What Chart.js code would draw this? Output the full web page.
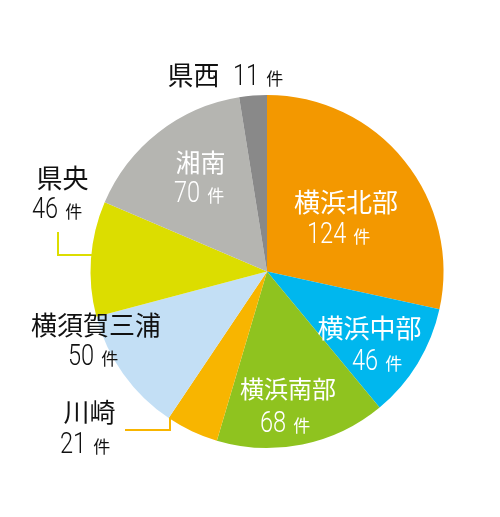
<!DOCTYPE html>
<html lang="ja">
<head>
<meta charset="UTF-8">
<title>地域別件数</title>
<script src="https://cdn.jsdelivr.net/npm/chart.js@4.4.1/dist/chart.umd.min.js"></script>
<style>
  html, body { margin: 0; padding: 0; background: #fff; }
  #wrap { width: 500px; height: 517px; }
</style>
</head>
<body>
<div id="wrap"><canvas id="pie"></canvas></div>
<script>
// data
const areas  = ['横浜北部', '横浜中部', '横浜南部', '川崎', '横須賀三浦', '県央', '湘南', '県西'];
const counts = [124, 46, 68, 21, 50, 46, 70, 11];
const colors = ['#f39800', '#00b7ee', '#8fc31f', '#f8b500', '#c3dff5', '#dcdd00', '#b5b5b1', '#898989'];

// label placement, px offsets from pie centre (name: centre/baseline, num: left/baseline)
const labelLayout = [
  { name: [79, -59.5],     num: [40, -28.5],    size: 26, color: '#fff' },
  { name: [102.5, 66.5],   num: [85, 98.5],     size: 26, color: '#fff' },
  { name: [21, 126.5],     num: [-7, 160.5],    size: 24, color: '#fff' },
  { name: [-177.5, 150.5], num: [-207, 181.5],  size: 26, color: '#111' ,
    leader: [[-142, 158.5], [-97, 158.5], [-97, 146.5]] },
  { name: [-171, 63.5],    num: [-199, 93.5],   size: 26, color: '#111' },
  { name: [-204.5, -83.5], num: [-235, -53.5],  size: 26, color: '#111',
    leader: [[-209, -39.5], [-209, -16.5], [-175, -16.5]] },
  { name: [-66.5, -99.5],  num: [-93, -69.5],   size: 25, color: '#fff' },
  { name: [-73.5, -186.5], num: [-34, -186.5],  size: 26, color: '#111' }
];

const JP = '"Noto Sans CJK JP", sans-serif';
const NUM = 'Roboto, sans-serif';
const NUM_SQUEEZE = 0.8;

const labelPlugin = {
  id: 'areaLabels',
  afterDatasetsDraw(chart) {
    const ctx = chart.ctx;
    const arcs = chart.getDatasetMeta(0).data;
    if (!arcs.length) return;
    const cx = arcs[0].x, cy = arcs[0].y;
    const k = arcs[0].outerRadius / 176.5;
    ctx.save();
    arcs.forEach((arc, i) => {
      const L = labelLayout[i];
      if (L.leader) {
        ctx.strokeStyle = colors[i];
        ctx.lineWidth = 2;
        ctx.beginPath();
        L.leader.forEach((p, j) => {
          const px = cx + p[0] * k, py = cy + p[1] * k;
          if (j === 0) ctx.moveTo(px, py); else ctx.lineTo(px, py);
        });
        ctx.stroke();
      }
      ctx.fillStyle = L.color;
      ctx.textBaseline = 'alphabetic';
      ctx.textAlign = 'center';
      ctx.font = '400 ' + L.size + 'px ' + JP;
      ctx.fillText(areas[i], cx + L.name[0] * k, cy + L.name[1] * k);

      ctx.textAlign = 'left';
      const nx = cx + L.num[0] * k, ny = cy + L.num[1] * k;
      ctx.font = '300 29.5px ' + NUM;
      const s = String(counts[i]);
      ctx.save();
      ctx.translate(nx, ny);
      ctx.scale(NUM_SQUEEZE, 1);
      ctx.fillText(s, 0, 0);
      ctx.restore();
      const w = ctx.measureText(s).width * NUM_SQUEEZE;
      ctx.font = '400 17px ' + JP;
      ctx.fillText('件', nx + w + 7, ny);
    });
    ctx.restore();
  }
};

new Chart(document.getElementById('pie'), {
  type: 'pie',
  data: {
    labels: areas,
    datasets: [{
      data: counts,
      backgroundColor: colors,
      borderWidth: 0
    }]
  },
  options: {
    responsive: true,
    maintainAspectRatio: false,
    animation: false,
    layout: { padding: { top: 95, bottom: 69, left: 90.5, right: 56.5 } },
    plugins: {
      legend: { display: false },
      tooltip: { enabled: false }
    }
  },
  plugins: [labelPlugin]
});
</script>
</body>
</html>
